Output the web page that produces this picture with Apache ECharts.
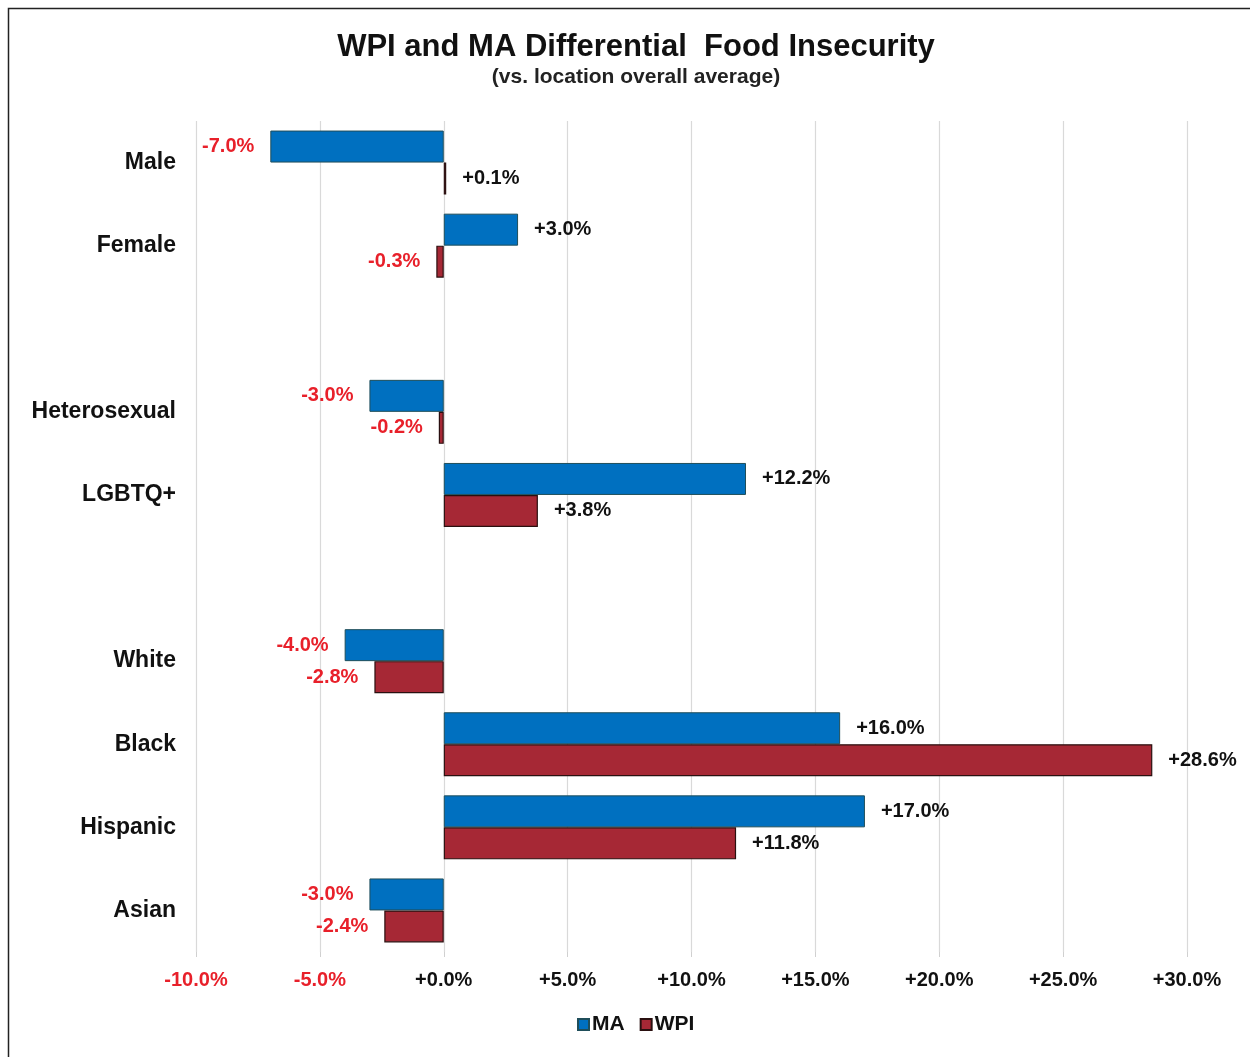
<!DOCTYPE html>
<html>
<head>
<meta charset="utf-8">
<script src="https://cdn.jsdelivr.net/npm/echarts@6/dist/echarts.min.js"></script>
<style>
html,body{margin:0;padding:0;background:#fff;}
#chart{width:1250px;height:1057px;}
</style>
</head>
<body>
<div id="chart"></div>
<script>
const categories = ['Male', 'Female', '', 'Heterosexual', 'LGBTQ+', '', 'White', 'Black', 'Hispanic', 'Asian'];
const maValues  = [-7.0, 3.0, null, -3.0, 12.2, null, -4.0, 16.0, 17.0, -3.0];
const wpiValues = [0.1, -0.3, null, -0.2, 3.8, null, -2.8, 28.6, 11.8, -2.4];
const xTicks = { min: -10, max: 30, interval: 5 };

const RED_TEXT = '#e8202a';
const FONT = '"Liberation Sans", Arial, sans-serif';

function fmt(v) {
  return (v < 0 ? '-' : '+') + Math.abs(v).toFixed(1) + '%';
}
function buildData(values) {
  return values.map(v => {
    if (v === null) return '-';
    return {
      value: v,
      label: {
        position: v < 0 ? 'left' : 'right',
        color: v < 0 ? RED_TEXT : '#111'
      }
    };
  });
}

const chart = echarts.init(document.getElementById('chart'), null, { renderer: 'canvas' });
chart.setOption({
  backgroundColor: '#fff',
  animation: false,
  graphic: [{
    type: 'rect',
    shape: { x: 8.5, y: 8.5, width: 1260, height: 1070 },
    style: { fill: 'none', stroke: '#222', lineWidth: 1.5 },
    z: 100
  }],
  title: {
    text: 'WPI and MA Differential  Food Insecurity',
    subtext: '(vs. location overall average)',
    left: 631,
    textAlign: 'center',
    top: 27,
    itemGap: 4,
    textStyle: { fontFamily: FONT, fontSize: 31, fontWeight: 'bold', color: '#111' },
    subtextStyle: { fontFamily: FONT, fontSize: 21, fontWeight: 'bold', color: '#222' }
  },
  legend: {
    data: ['MA', 'WPI'],
    left: 572,
    bottom: 17,
    itemWidth: 11,
    itemHeight: 11,
    itemGap: 15,
    icon: 'rect',
    textStyle: { fontFamily: FONT, fontSize: 21, fontWeight: 'bold', color: '#111', padding: [0, 0, 0, -2] }
  },
  grid: { left: 196, right: 63, top: 121, bottom: 105, containLabel: false },
  xAxis: {
    type: 'value',
    min: xTicks.min,
    max: xTicks.max,
    interval: xTicks.interval,
    axisLine: { show: false },
    axisTick: { show: true, length: 5, lineStyle: { color: '#d0d0d0' } },
    splitLine: { show: true, lineStyle: { color: '#d9d9d9', width: 1.2 } },
    axisLabel: {
      margin: 18,
      formatter: v => (v < 0 ? '{neg|' : '{pos|') + fmt(v) + '}',
      rich: {
        neg: { fontFamily: FONT, fontSize: 20, fontWeight: 'bold', color: RED_TEXT },
        pos: { fontFamily: FONT, fontSize: 20, fontWeight: 'bold', color: '#111' }
      }
    }
  },
  yAxis: {
    type: 'category',
    data: categories,
    inverse: true,
    axisLine: { show: false },
    axisTick: { show: false },
    splitLine: { show: false },
    axisLabel: { margin: 20, fontFamily: FONT, fontSize: 23, fontWeight: 'bold', color: '#111' }
  },
  series: [
    {
      name: 'MA',
      type: 'bar',
      data: buildData(maValues),
      barGap: '0%',
      barCategoryGap: '23%',
      itemStyle: { color: '#0070c0', borderColor: '#1f4e5a', borderWidth: 1 },
      label: {
        show: true,
        distance: 16,
        fontFamily: FONT, fontSize: 20, fontWeight: 'bold',
        formatter: p => fmt(p.value)
      }
    },
    {
      name: 'WPI',
      type: 'bar',
      data: buildData(wpiValues),
      barGap: '0%',
      barCategoryGap: '23%',
      itemStyle: { color: '#a62835', borderColor: '#2a1010', borderWidth: 1.2 },
      label: {
        show: true,
        distance: 16,
        fontFamily: FONT, fontSize: 20, fontWeight: 'bold',
        formatter: p => fmt(p.value)
      }
    }
  ]
});
</script>
</body>
</html>
